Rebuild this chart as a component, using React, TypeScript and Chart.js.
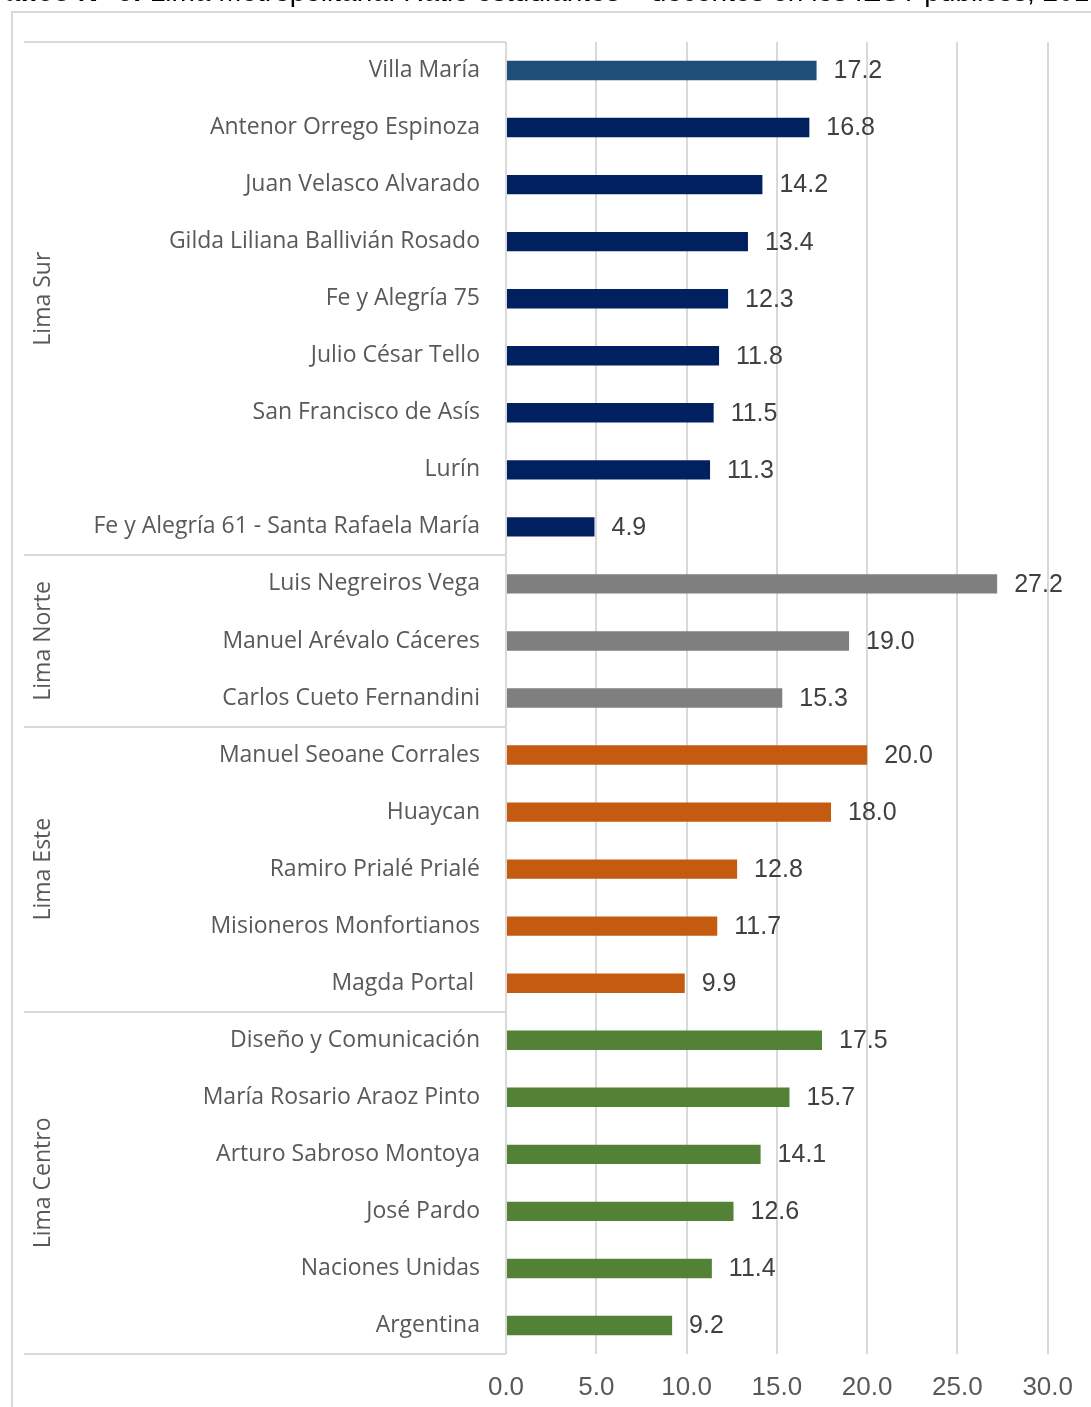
import React, { useEffect, useRef } from 'react';
import { Chart, registerables } from 'chart.js';

Chart.register(...registerables);

const categories = [
  'Villa María',
  'Antenor Orrego Espinoza',
  'Juan Velasco Alvarado',
  'Gilda Liliana Ballivián Rosado',
  'Fe y Alegría 75',
  'Julio César Tello',
  'San Francisco de Asís',
  'Lurín',
  'Fe y Alegría 61 - Santa Rafaela María',
  'Luis Negreiros Vega',
  'Manuel Arévalo Cáceres',
  'Carlos Cueto Fernandini',
  'Manuel Seoane Corrales',
  'Huaycan',
  'Ramiro Prialé Prialé',
  'Misioneros Monfortianos',
  'Magda Portal ',
  'Diseño y Comunicación',
  'María Rosario Araoz Pinto',
  'Arturo Sabroso Montoya',
  'José Pardo',
  'Naciones Unidas',
  'Argentina',
];

const values = [
  17.2, 16.8, 14.2, 13.4, 12.3, 11.8, 11.5, 11.3, 4.9,
  27.2, 19.0, 15.3,
  20.0, 18.0, 12.8, 11.7, 9.9,
  17.5, 15.7, 14.1, 12.6, 11.4, 9.2,
];

const groupNames = ['Lima Sur', 'Lima Norte', 'Lima Este', 'Lima Centro'];
const groupSizes = [9, 3, 5, 6];
const groupColors = ['#002060', '#7F7F7F', '#C55A11', '#538135'];
const highlightIndex = 0;
const highlightColor = '#1F4E79';

const xTicks = [0, 5, 10, 15, 20, 25, 30];

const TITLE_BOLD = 'Gráfico N° 6:';
const TITLE_REST = ' Lima Metropolitana: Ratio estudiantes – docentes en los IEST públicos, 2018';

function buildColors(): string[] {
  const out: string[] = [];
  groupSizes.forEach((n, g) => {
    for (let i = 0; i < n; i++) out.push(groupColors[g]);
  });
  out[highlightIndex] = highlightColor;
  return out;
}

const frameLine = '#D9D9D9';
const textGray = '#595959';

const framePlugin = {
  id: 'framePlugin',
  beforeDraw(chart: any) {
    const ctx = chart.ctx;
    ctx.save();
    ctx.strokeStyle = frameLine;
    ctx.lineWidth = 2;
    ctx.strokeRect(12, 12, 1200, 1500);
    ctx.restore();
  },
  afterDraw(chart: any) {
    const ctx = chart.ctx;
    const y = chart.scales.y;
    const area = chart.chartArea;
    const leftX = 24;
    const bounds: number[] = [area.top];
    let idx = 0;
    groupSizes.forEach((n) => {
      idx += n;
      if (idx < categories.length) {
        bounds.push((y.getPixelForValue(idx - 1) + y.getPixelForValue(idx)) / 2);
      }
    });
    bounds.push(area.bottom);
    ctx.save();
    ctx.strokeStyle = frameLine;
    ctx.lineWidth = 2;
    bounds.forEach((b) => {
      ctx.beginPath();
      ctx.moveTo(leftX, Math.round(b));
      ctx.lineTo(area.left, Math.round(b));
      ctx.stroke();
    });
    ctx.fillStyle = textGray;
    ctx.font = '23px "Open Sans"';
    ctx.textAlign = 'center';
    ctx.textBaseline = 'middle';
    groupNames.forEach((name, g) => {
      const mid = (bounds[g] + bounds[g + 1]) / 2;
      ctx.save();
      ctx.translate(43, mid);
      ctx.rotate(-Math.PI / 2);
      ctx.fillText(name, 0, 0);
      ctx.restore();
    });
    ctx.restore();
  },
};

const valueLabelPlugin = {
  id: 'valueLabelPlugin',
  afterDatasetsDraw(chart: any) {
    const ctx = chart.ctx;
    const meta = chart.getDatasetMeta(0);
    ctx.save();
    ctx.fillStyle = '#404040';
    ctx.font = '25px "Liberation Sans", Arial, sans-serif';
    ctx.textAlign = 'left';
    ctx.textBaseline = 'middle';
    meta.data.forEach((bar: any, i: number) => {
      ctx.fillText(values[i].toFixed(1), bar.x + 17, bar.y + 1);
    });
    ctx.restore();
  },
};

export default function App() {
  const ref = useRef<HTMLCanvasElement | null>(null);

  useEffect(() => {
    if (!ref.current) return;
    const chart = new Chart(ref.current, {
      type: 'bar',
      data: {
        labels: categories,
        datasets: [
          {
            data: values,
            backgroundColor: buildColors(),
            borderWidth: 0,
            categoryPercentage: 1,
            barPercentage: 0.34,
          },
        ],
      },
      options: {
        indexAxis: 'y',
        animation: false,
        responsive: false,
        devicePixelRatio: 1,
        layout: { padding: { left: 24, top: 42, right: 41, bottom: 0 } },
        plugins: {
          legend: { display: false },
          tooltip: { enabled: false },
          title: { display: false },
        },
        scales: {
          x: {
            type: 'linear',
            min: xTicks[0],
            max: xTicks[xTicks.length - 1],
            afterBuildTicks: (scale: any) => {
              scale.ticks = xTicks.map((v) => ({ value: v }));
            },
            afterFit: (scale: any) => {
              scale.height = 53;
            },
            grid: { color: frameLine, lineWidth: 2, drawTicks: false },
            border: { display: false },
            ticks: {
              padding: 18,
              color: textGray,
              font: { family: '"Liberation Sans", Arial, sans-serif', size: 26 },
              callback: (v: any) => Number(v).toFixed(1),
            },
          },
          y: {
            type: 'category',
            offset: true,
            afterFit: (scale: any) => {
              scale.width = 482;
            },
            grid: { display: false, drawTicks: false },
            border: { display: false },
            ticks: {
              autoSkip: false,
              padding: 26,
              color: textGray,
              font: { family: '"Open Sans"', size: 23 },
            },
          },
        },
      },
      plugins: [framePlugin, valueLabelPlugin],
    });
    return () => chart.destroy();
  }, []);

  return (
    <div style={{ position: 'absolute', left: 0, top: 0, width: 1091, height: 1407, overflow: 'hidden', background: '#fff' }}>
      <canvas ref={ref} width={1091} height={1407} style={{ position: 'absolute', left: 0, top: 0 }} />
      <div
        style={{
          position: 'absolute',
          left: -28,
          top: -22,
          whiteSpace: 'nowrap',
          fontFamily: '"Liberation Sans", Arial, sans-serif',
          fontSize: 28,
          lineHeight: '28px',
          color: '#000',
        }}
      >
        <b>{TITLE_BOLD}</b>
        {TITLE_REST}
      </div>
    </div>
  );
}
